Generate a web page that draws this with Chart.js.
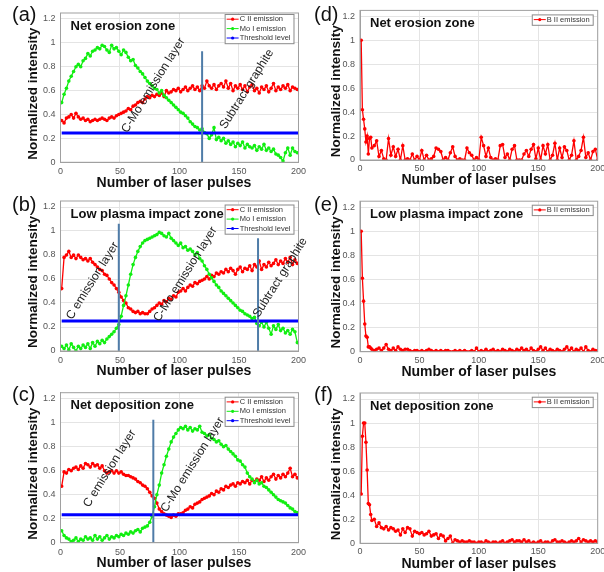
<!DOCTYPE html>
<html>
<head>
<meta charset="utf-8">
<script src="https://cdn.jsdelivr.net/npm/chart.js@4.4.1/dist/chart.umd.min.js"></script>
<style>
html, body { margin: 0; padding: 0; background: #fff; width: 604px; height: 572px; overflow: hidden; }
.panel { position: absolute; }
</style>
</head>
<body>
<div class="panel" style="left:0;top:0"><canvas id="pa" width="310" height="196"></canvas></div>
<div class="panel" style="left:0;top:190px"><canvas id="pb" width="310" height="196"></canvas></div>
<div class="panel" style="left:0;top:380px"><canvas id="pc" width="310" height="196"></canvas></div>
<div class="panel" style="left:300px;top:0"><canvas id="pd" width="310" height="196"></canvas></div>
<div class="panel" style="left:300px;top:190px"><canvas id="pe" width="310" height="196"></canvas></div>
<div class="panel" style="left:300px;top:380px"><canvas id="pf" width="310" height="196"></canvas></div>
<script>
// pulse numbers (every second pulse on the left panels)
const pulsesLeft = [
  1, 3, 5, 7, 9, 11, 13, 15, 17, 19,
  21, 23, 25, 27, 29, 31, 33, 35, 37, 39,
  41, 43, 45, 47, 49, 51, 53, 55, 57, 59,
  61, 63, 65, 67, 69, 71, 73, 75, 77, 79,
  81, 83, 85, 87, 89, 91, 93, 95, 97, 99,
  101, 103, 105, 107, 109, 111, 113, 115, 117, 119,
  121, 123, 125, 127, 129, 131, 133, 135, 137, 139,
  141, 143, 145, 147, 149, 151, 153, 155, 157, 159,
  161, 163, 165, 167, 169, 171, 173, 175, 177, 179,
  181, 183, 185, 187, 189, 191, 193, 195, 197, 199
];
const pulsesRight = [
  1, 2, 3, 4, 5, 6, 7, 8, 9, 10,
  12, 14, 16, 18, 20, 22, 24, 26, 28, 30,
  32, 34, 36, 38, 40, 42, 44, 46, 48, 50,
  52, 54, 56, 58, 60, 62, 64, 66, 68, 70,
  72, 74, 76, 78, 80, 82, 84, 86, 88, 90,
  92, 94, 96, 98, 100, 102, 104, 106, 108, 110,
  112, 114, 116, 118, 120, 122, 124, 126, 128, 130,
  132, 134, 136, 138, 140, 142, 144, 146, 148, 150,
  152, 154, 156, 158, 160, 162, 164, 166, 168, 170,
  172, 174, 176, 178, 180, 182, 184, 186, 188, 190,
  192, 194, 196, 198, 200
];
const thrX = [1, 200];

// (a) net erosion zone
const cIIa = [
  0.35, 0.33, 0.37, 0.38, 0.40, 0.37, 0.41, 0.38, 0.36, 0.37,
  0.35, 0.36, 0.34, 0.35, 0.36, 0.35, 0.36, 0.37, 0.36, 0.35,
  0.37, 0.38, 0.37, 0.39, 0.40, 0.41, 0.42, 0.43, 0.45, 0.44,
  0.47, 0.48, 0.50, 0.51, 0.50, 0.53, 0.55, 0.54, 0.56, 0.55,
  0.57, 0.56, 0.58, 0.55, 0.60, 0.58, 0.59, 0.61, 0.60, 0.62,
  0.59, 0.61, 0.63, 0.60, 0.62, 0.64, 0.61, 0.63, 0.60, 0.64,
  0.62, 0.68, 0.64, 0.62, 0.65, 0.61, 0.64, 0.66, 0.63, 0.68,
  0.62, 0.66, 0.60, 0.64, 0.62, 0.65, 0.61, 0.64, 0.59, 0.63,
  0.65, 0.60, 0.62, 0.58, 0.63, 0.61, 0.64, 0.59, 0.62, 0.66,
  0.60, 0.63, 0.61, 0.64, 0.62, 0.65, 0.60, 0.63, 0.62, 0.61
];
const moIa = [
  0.50, 0.57, 0.62, 0.68, 0.72, 0.76, 0.80, 0.82, 0.80, 0.85,
  0.87, 0.91, 0.89, 0.93, 0.94, 0.96, 0.95, 0.98, 0.97, 0.94,
  0.92, 0.98, 0.95, 0.96, 0.93, 0.90, 0.94, 0.92, 0.88, 0.85,
  0.86, 0.81, 0.79, 0.76, 0.74, 0.71, 0.68, 0.66, 0.64, 0.62,
  0.61, 0.58, 0.60, 0.56, 0.54, 0.52, 0.50, 0.48, 0.46, 0.44,
  0.42, 0.41, 0.39, 0.37, 0.34, 0.32, 0.30, 0.29, 0.27, 0.28,
  0.25, 0.24, 0.20, 0.23, 0.29, 0.19, 0.21, 0.18, 0.20, 0.16,
  0.18, 0.15, 0.17, 0.13, 0.16, 0.14, 0.17, 0.12, 0.15, 0.13,
  0.12, 0.14, 0.10, 0.13, 0.11, 0.15, 0.10, 0.12, 0.09, 0.11,
  0.07, 0.06, 0.04, 0.01, 0.08, 0.12, 0.06, 0.12, 0.09, 0.08
];
const thrA = 0.245;
const markAX = [119];
const markATop = [0.93];

// (b) low plasma impact zone
const cIIb = [
  0.52, 0.78, 0.80, 0.83, 0.78, 0.80, 0.77, 0.80, 0.78, 0.76,
  0.77, 0.75, 0.77, 0.74, 0.72, 0.70, 0.68, 0.67, 0.64, 0.63,
  0.60, 0.57, 0.55, 0.52, 0.49, 0.45, 0.42, 0.40, 0.36, 0.35,
  0.33, 0.32, 0.33, 0.31, 0.32, 0.31, 0.31, 0.33, 0.35, 0.36,
  0.38, 0.40, 0.39, 0.42, 0.41, 0.44, 0.43, 0.46, 0.45, 0.49,
  0.50, 0.52, 0.50, 0.53, 0.55, 0.54, 0.57, 0.56, 0.58, 0.59,
  0.60, 0.62, 0.60, 0.63, 0.62, 0.65, 0.64, 0.66, 0.65, 0.68,
  0.66, 0.69, 0.67, 0.64, 0.68, 0.70, 0.66, 0.69, 0.68, 0.71,
  0.67, 0.72, 0.70, 0.75, 0.68, 0.72, 0.70, 0.74, 0.71, 0.73,
  0.76, 0.72, 0.75, 0.73, 0.77, 0.74, 0.78, 0.72, 0.76, 0.73
];
const moIb = [
  0.04, 0.02, 0.05, 0.01, 0.06, 0.03, 0.00, 0.04, 0.02, 0.05,
  0.03, 0.06, 0.02, 0.07, 0.04, 0.08, 0.06, 0.09, 0.07, 0.10,
  0.12, 0.14, 0.16, 0.19, 0.22, 0.29, 0.38, 0.46, 0.55, 0.64,
  0.72, 0.78, 0.83, 0.87, 0.90, 0.92, 0.93, 0.94, 0.95, 0.96,
  0.97, 0.99, 0.98, 0.96, 0.95, 0.98, 0.94, 0.92, 0.90, 0.88,
  0.90, 0.86, 0.87, 0.84, 0.85, 0.83, 0.80, 0.82, 0.77, 0.75,
  0.71, 0.68, 0.64, 0.61, 0.58, 0.55, 0.53, 0.50, 0.48, 0.46,
  0.44, 0.42, 0.40, 0.38, 0.36, 0.34, 0.33, 0.31, 0.30, 0.29,
  0.27, 0.28, 0.23, 0.21, 0.24, 0.20, 0.24, 0.19, 0.14, 0.21,
  0.18, 0.22, 0.17, 0.19, 0.15, 0.17, 0.14, 0.18, 0.16, 0.07
];
const thrB = 0.25;
const markBX = [49, 166];
const markBTop = [1.06, 0.94];

// (c) net deposition zone
const cIIc = [
  0.47, 0.59, 0.58, 0.61, 0.60, 0.62, 0.63, 0.61, 0.64, 0.62,
  0.66, 0.65, 0.63, 0.66, 0.64, 0.65, 0.62, 0.64, 0.60, 0.58,
  0.59, 0.60, 0.58, 0.60, 0.58, 0.59, 0.57, 0.56, 0.56, 0.55,
  0.54, 0.53, 0.51, 0.50, 0.48, 0.47, 0.45, 0.42, 0.39, 0.37,
  0.33, 0.28, 0.26, 0.24, 0.23, 0.22, 0.21, 0.23, 0.22, 0.24,
  0.24, 0.25, 0.27, 0.28, 0.30, 0.29, 0.32, 0.33, 0.34, 0.36,
  0.37, 0.38, 0.39, 0.41, 0.40, 0.43, 0.42, 0.45, 0.44, 0.47,
  0.46, 0.48, 0.49, 0.47, 0.50, 0.49, 0.51, 0.50, 0.52, 0.49,
  0.52, 0.51, 0.53, 0.52, 0.55, 0.51, 0.54, 0.52, 0.55, 0.57,
  0.53, 0.56, 0.54, 0.57, 0.55, 0.58, 0.62, 0.55, 0.57, 0.54
];
const moIc = [
  0.10, 0.06, 0.04, 0.03, 0.01, 0.02, 0.04, 0.01, 0.03, 0.02,
  0.05, 0.03, 0.04, 0.02, 0.06, 0.03, 0.05, 0.02, 0.04, 0.06,
  0.03, 0.05, 0.04, 0.06, 0.05, 0.07, 0.06, 0.08, 0.07, 0.09,
  0.08, 0.10, 0.11, 0.09, 0.12, 0.13, 0.14, 0.17, 0.22, 0.30,
  0.40, 0.48, 0.58, 0.65, 0.72, 0.78, 0.84, 0.88, 0.91, 0.94,
  0.96, 0.95, 0.97, 0.94, 0.96, 0.93, 0.95, 0.94, 0.97, 0.92,
  0.91, 0.89, 0.90, 0.87, 0.86, 0.84, 0.85, 0.82, 0.80, 0.81,
  0.78, 0.76, 0.74, 0.72, 0.69, 0.68, 0.65, 0.63, 0.58, 0.55,
  0.53, 0.50, 0.52, 0.49, 0.50, 0.47, 0.46, 0.44, 0.42, 0.40,
  0.38, 0.36, 0.35, 0.34, 0.33, 0.31, 0.29, 0.28, 0.26, 0.25
];
const thrC = 0.233;
const markCX = [78];
const markCTop = [1.025];

// (d)-(f) B II emission
const bIId = [
  1.00, 0.42, 0.34, 0.26, 0.15, 0.20, 0.05, 0.18, 0.19, 0.10,
  0.12, 0.16, 0.03, 0.08, 0.01, 0.00, 0.18, 0.04, 0.11, 0.03,
  0.09, 0.00, 0.12, 0.00, 0.01, 0.00, 0.05, 0.00, 0.03, 0.00,
  0.08, 0.00, 0.04, 0.00, 0.01, 0.03, 0.10, 0.09, 0.07, 0.00,
  0.02, 0.00, 0.06, 0.11, 0.03, 0.00, 0.01, 0.00, 0.00, 0.10,
  0.06, 0.04, 0.00, 0.02, 0.00, 0.19, 0.12, 0.03, 0.10, 0.02,
  0.00, 0.01, 0.00, 0.12, 0.13, 0.02, 0.05, 0.00, 0.09, 0.12,
  0.00, 0.00, 0.00, 0.05, 0.08, 0.03, 0.09, 0.13, 0.01, 0.10,
  0.00, 0.12, 0.05, 0.13, 0.00, 0.04, 0.14, 0.00, 0.10, 0.02,
  0.11, 0.08, 0.00, 0.04, 0.16, 0.00, 0.03, 0.08, 0.19, 0.02,
  0.06, 0.00, 0.07, 0.09, 0.00
];
const bIIe = [
  1.00, 0.61, 0.42, 0.23, 0.13, 0.12, 0.04, 0.04, 0.03, 0.02,
  0.01, 0.02, 0.03, 0.01, 0.03, 0.06, 0.02, 0.01, 0.03, 0.01,
  0.04, 0.02, 0.01, 0.02, 0.02, 0.01, 0.00, 0.01, 0.01, 0.00,
  0.01, 0.00, 0.01, 0.02, 0.01, 0.00, 0.01, 0.00, 0.01, 0.00,
  0.01, 0.01, 0.00, 0.00, 0.01, 0.00, 0.01, 0.00, 0.01, 0.00,
  0.00, 0.01, 0.00, 0.03, 0.00, 0.01, 0.00, 0.02, 0.00, 0.01,
  0.02, 0.00, 0.01, 0.00, 0.02, 0.01, 0.00, 0.02, 0.01, 0.00,
  0.02, 0.01, 0.03, 0.01, 0.02, 0.00, 0.03, 0.01, 0.00, 0.02,
  0.04, 0.01, 0.03, 0.00, 0.02, 0.01, 0.00, 0.02, 0.01, 0.00,
  0.02, 0.04, 0.01, 0.03, 0.00, 0.02, 0.01, 0.03, 0.00, 0.04,
  0.01, 0.00, 0.02, 0.01, 0.01
];
const bIIf = [
  0.41, 0.89, 1.00, 1.00, 0.84, 0.61, 0.33, 0.32, 0.24, 0.19,
  0.20, 0.14, 0.17, 0.13, 0.12, 0.14, 0.11, 0.13, 0.12, 0.10,
  0.11, 0.07, 0.12, 0.09, 0.13, 0.12, 0.06, 0.10, 0.09, 0.08,
  0.09, 0.07, 0.08, 0.10, 0.06, 0.07, 0.08, 0.04, 0.07, 0.06,
  0.02, 0.04, 0.06, 0.00, 0.03, 0.02, 0.01, 0.02, 0.01, 0.01,
  0.02, 0.01, 0.01, 0.00, 0.01, 0.01, 0.00, 0.02, 0.01, 0.00,
  0.01, 0.01, 0.00, 0.01, 0.02, 0.00, 0.01, 0.02, 0.03, 0.01,
  0.02, 0.02, 0.01, 0.03, 0.01, 0.02, 0.00, 0.01, 0.00, 0.01,
  0.02, 0.00, 0.01, 0.01, 0.00, 0.02, 0.03, 0.01, 0.01, 0.02,
  0.01, 0.00, 0.01, 0.02, 0.01, 0.02, 0.04, 0.01, 0.03, 0.02,
  0.01, 0.02, 0.01, 0.02, 0.01
];

const RED = '#ff0000', GREEN = '#11ee11', BLUE = '#0000ff', MARK = '#4f7ca8';
const FAM = '"Liberation Sans", Arial, Helvetica, sans-serif';
Chart.defaults.font.family = FAM;

const W = 310, H = 196;

const panels = [
  { id: 'pa', T: 13, B: 162.3, L: 60.5, R: 299, letter: '(a)', zone: 'Net erosion zone', left: true, legendDy: 1,
    series: [{label: 'C II emission', x: pulsesLeft, y: cIIa, color: RED}, {label: 'Mo I emission', x: pulsesLeft, y: moIa, color: GREEN}],
    threshold: thrA, markX: markAX, markTop: markATop,
    notes: [{t: 'C-Mo emission layer', x: 78, y: 0.645}, {t: 'Subtract graphite', x: 156.6, y: 0.613}] },
  { id: 'pb', T: 11, B: 161, L: 60.5, R: 299, letter: '(b)', zone: 'Low plasma impact zone', left: true, legendDy: 3.5,
    series: [{label: 'C II emission', x: pulsesLeft, y: cIIb, color: RED}, {label: 'Mo I emission', x: pulsesLeft, y: moIb, color: GREEN}],
    threshold: thrB, markX: markBX, markTop: markBTop,
    notes: [{t: 'C emission layer', x: 27, y: 0.585}, {t: 'C-Mo emission layer', x: 105, y: 0.64}, {t: 'Subtract graphite', x: 184.6, y: 0.612}] },
  { id: 'pc', T: 12.7, B: 162.7, L: 60.5, R: 299, letter: '(c)', zone: 'Net deposition zone', left: true, legendDy: 4,
    series: [{label: 'C II emission', x: pulsesLeft, y: cIIc, color: RED}, {label: 'Mo I emission', x: pulsesLeft, y: moIc, color: GREEN}],
    threshold: thrC, markX: markCX, markTop: markCTop,
    notes: [{t: 'C emission layer', x: 41.4, y: 0.618}, {t: 'C-Mo emission layer', x: 111, y: 0.65}] },
  { id: 'pd', T: 10, B: 160, L: 60, R: 297.7, letter: '(d)', zone: 'Net erosion zone', left: false, legendDy: 4,
    series: [{label: 'B II emission', x: pulsesRight, y: bIId, color: RED}], notes: [] },
  { id: 'pe', T: 11.2, B: 161.7, L: 60, R: 297.7, letter: '(e)', zone: 'Low plasma impact zone', left: false, legendDy: 3.5,
    series: [{label: 'B II emission', x: pulsesRight, y: bIIe, color: RED}], notes: [] },
  { id: 'pf', T: 13, B: 163.3, L: 60, R: 297.7, letter: '(f)', zone: 'Net deposition zone', left: false, legendDy: 3.7,
    series: [{label: 'B II emission', x: pulsesRight, y: bIIf, color: RED}], notes: [] }
];

function decor(p) {
  return {
    id: 'decor',
    afterDraw(chart) {
      const ctx = chart.ctx, a = chart.chartArea, xs = chart.scales.x, ys = chart.scales.y;
      ctx.save();
      // box on all four sides
      ctx.strokeStyle = '#a0a0a0';
      ctx.lineWidth = 1;
      ctx.strokeRect(a.left, a.top, a.right - a.left, a.bottom - a.top);

      ctx.fillStyle = '#111';
      ctx.textBaseline = 'middle';
      ctx.textAlign = 'left';
      ctx.font = '20px ' + FAM;
      ctx.fillText(p.letter, p.left ? 12 : 14, 15);

      ctx.font = 'bold 13px ' + FAM;
      ctx.fillText(p.zone, a.left + 10, a.top + 13);

      // axis titles
      ctx.textAlign = 'center';
      ctx.font = 'bold 14px ' + FAM;
      ctx.fillText('Number of laser pulses', (a.left + a.right) / 2 + (p.left ? -5.5 : 0), a.bottom + 20.5);
      ctx.save();
      ctx.translate(a.left - (p.left ? 27.2 : 23.3), (a.top + a.bottom) / 2 + 6);
      ctx.rotate(-Math.PI / 2);
      ctx.font = 'bold 13.5px ' + FAM;
      ctx.fillText('Normalized intensity', 0, 0);
      ctx.restore();

      // rotated layer notes
      ctx.font = '12px ' + FAM;
      ctx.fillStyle = '#222';
      p.notes.forEach(n => {
        ctx.save();
        ctx.translate(xs.getPixelForValue(n.x), ys.getPixelForValue(n.y));
        ctx.rotate(-58 * Math.PI / 180);
        ctx.fillText(n.t, 0, 0);
        ctx.restore();
      });

      // legend box
      const items = chart.data.datasets.filter(d => d.label);
      ctx.font = '7.5px ' + FAM;
      const tw = Math.max(...items.map(d => ctx.measureText(d.label).width));
      const rowH = 9.4;
      const bw = 15 + tw + 3, bh = items.length * rowH + 1;
      const bx = a.right - 5 - bw, by = a.top + p.legendDy;
      ctx.fillStyle = '#fff';
      ctx.fillRect(bx, by, bw, bh);
      ctx.strokeStyle = '#8a8a8a';
      ctx.strokeRect(bx + 0.5, by + 0.5, bw, bh);
      ctx.textAlign = 'left';
      items.forEach((d, i) => {
        const cy = by + 0.5 + rowH * (i + 0.5);
        ctx.strokeStyle = d.borderColor;
        ctx.lineWidth = 1;
        ctx.beginPath();
        ctx.moveTo(bx + 2, cy);
        ctx.lineTo(bx + 14, cy);
        ctx.stroke();
        ctx.fillStyle = d.borderColor;
        ctx.beginPath();
        ctx.arc(bx + 8, cy, 1.6, 0, Math.PI * 2);
        ctx.fill();
        ctx.fillStyle = '#333';
        ctx.fillText(d.label, bx + 15, cy);
      });
      ctx.restore();
    }
  };
}

function makeChart(p) {
  const datasets = p.series.map((s, i) => ({
    label: s.label,
    data: s.x.map((v, k) => ({x: v, y: s.y[k]})),
    borderColor: s.color,
    backgroundColor: s.color,
    borderWidth: 1.3,
    pointRadius: 1.8,
    pointBorderWidth: 0,
    order: 10 - i
  }));
  if (p.threshold !== undefined) {
    datasets.push({
      label: 'Threshold level',
      data: thrX.map(v => ({x: v, y: p.threshold})),
      borderColor: BLUE,
      backgroundColor: BLUE,
      borderWidth: 3,
      pointRadius: 0,
      order: 3
    });
  }
  (p.markX || []).forEach((mx, i) => {
    datasets.push({
      data: [{x: mx, y: 0}, {x: mx, y: p.markTop[i]}],
      borderColor: MARK,
      borderWidth: 2,
      pointRadius: 0,
      order: 1
    });
  });

  new Chart(document.getElementById(p.id), {
    type: 'line',
    data: {datasets: datasets},
    options: {
      responsive: false,
      animation: false,
      events: [],
      layout: {padding: {left: 0, top: p.T, right: W - p.R, bottom: H - p.B - 30}},
      plugins: {legend: {display: false}, tooltip: {enabled: false}},
      scales: {
        x: {
          type: 'linear', min: 0, max: 200,
          afterFit: s => { s.height = 30; },
          ticks: {stepSize: 50, padding: p.left ? 4 : 3, maxRotation: 0, font: {size: 9}, color: '#555'},
          grid: {color: '#e4e4e4', drawTicks: false},
          border: {color: '#a0a0a0'}
        },
        y: {
          min: 0, max: 1.25,
          afterFit: s => { s.width = p.L; },
          ticks: {
            stepSize: 0.2, includeBounds: false, padding: 5, font: {size: 9}, color: '#555',
            callback: v => String(Math.round(v * 10) / 10)
          },
          grid: {color: '#e4e4e4', drawTicks: false},
          border: {color: '#a0a0a0'}
        }
      }
    },
    plugins: [decor(p)]
  });
}

panels.forEach(makeChart);
</script>
</body>
</html>
